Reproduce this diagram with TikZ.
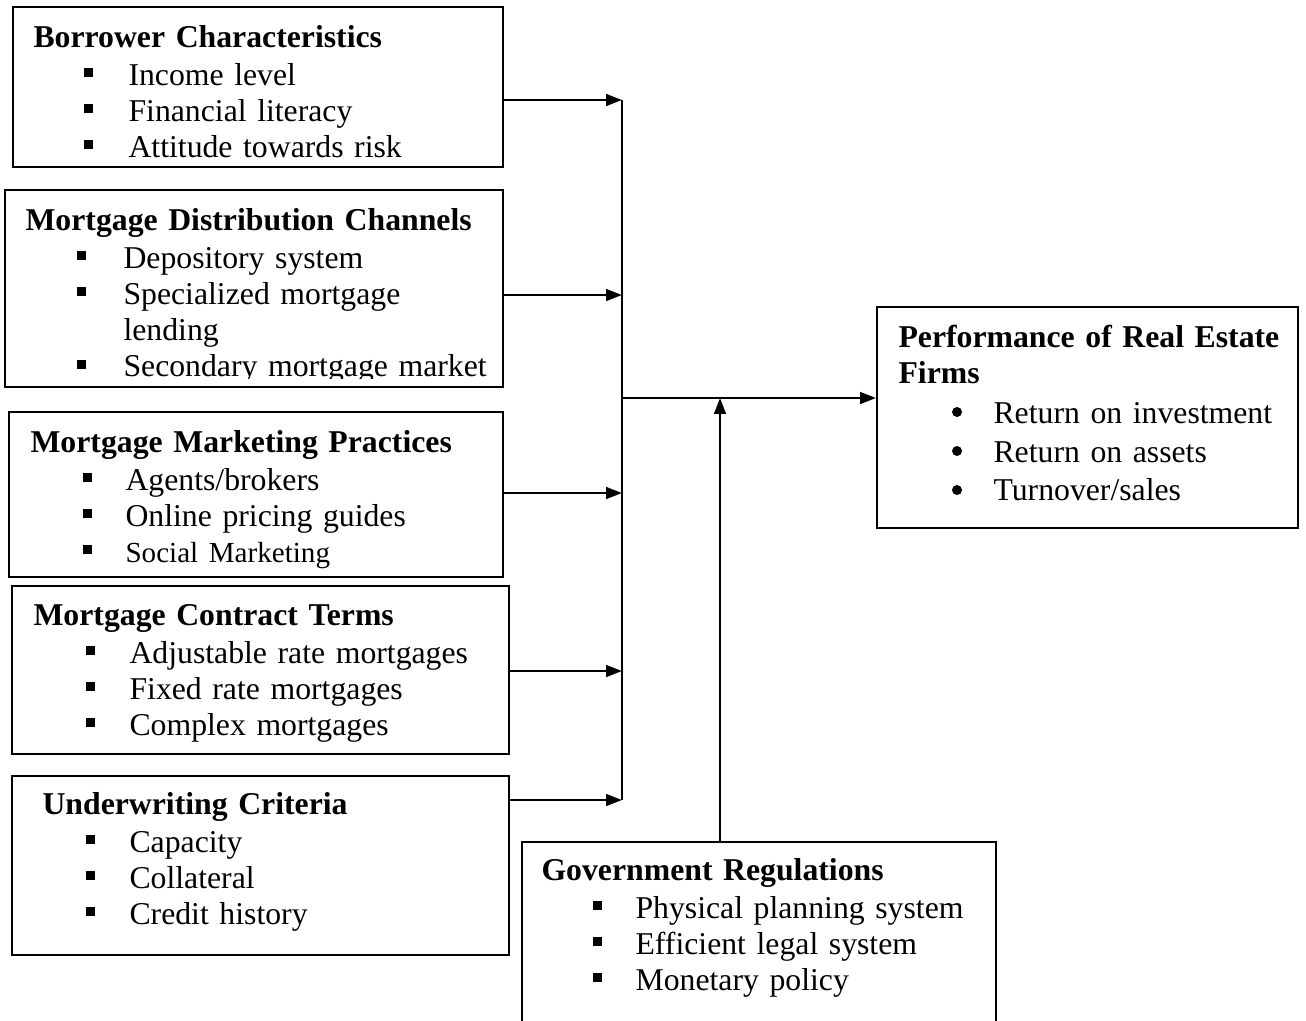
\documentclass[tikz,border=0pt]{standalone}
\usepackage{fontspec}
\setmainfont{Liberation Serif}
\usetikzlibrary{arrows.meta,fit}

% one drawing unit
\newlength\pxu \setlength\pxu{0.378pt}
% square list mark
\newcommand\sqmark{\rule[3pt]{3.4pt}{3.4pt}}
% list lines: indent of the mark, gap to the text, the text
\newcommand\bl[3]{\hspace*{#1\pxu}\makebox[#2\pxu][l]{\sqmark}#3}
\newcommand\cont[2]{\hspace*{#1\pxu}#2}

\tikzset{
  box/.style={draw, line width=0.75pt, inner sep=0pt, fit={#1}},
  txt/.style={anchor=base west, inner sep=0pt, text width=520\pxu, align=left,
              font=\fontsize{12}{13.65}\selectfont},
  conn/.style={line width=0.9pt, -{Triangle[length=6pt,width=4.4pt]}},
  bus/.style={line width=0.9pt},
  dotmk/.style={fill=black}
}

\begin{document}
\begin{tikzpicture}[x=0.378pt, y=-0.378pt]
\useasboundingbox (0,0) rectangle (1306,1020);
\clip (0,0) rectangle (1306,1020);

% ---- factor boxes on the left
\node[box={(13,7) (503,167)}] (bc) {};
\node[txt] (bct) at (33,47) {\textbf{Borrower Characteristics}\\[0.75pt]
  \bl{50}{45}{Income level}\\
  \bl{50}{45}{Financial literacy}\\
  \bl{50}{45}{Attitude towards risk}};

\node[box={(5,190) (503,387)}] (mdc) {};
\begin{scope}
  \clip (5,190) rectangle (503,378);
  \node[txt] (mdct) at (25,230) {\textbf{Mortgage Distribution Channels}\\[0.75pt]
    \bl{51}{47}{Depository system}\\
    \bl{51}{47}{Specialized mortgage}\\
    \cont{98}{lending}\\
    \bl{51}{47}{Secondary mortgage market}};
\end{scope}

\node[box={(9,412) (503,577)}] (mmp) {};
\node[txt] (mmpt) at (30,452) {\textbf{Mortgage Marketing Practices}\\[0.75pt]
  \bl{52}{43}{Agents/brokers}\\
  \bl{52}{43}{Online pricing guides}\\
  \bl{52}{43}{\fontsize{11}{13}\selectfont Social Marketing}};

\node[box={(12,586) (509,754)}] (mct) {};
\node[txt] (mctt) at (33,625) {\textbf{Mortgage Contract Terms}\\[0.75pt]
  \bl{52}{44}{Adjustable rate mortgages}\\
  \bl{52}{44}{Fixed rate mortgages}\\
  \bl{52}{44}{Complex mortgages}};

\node[box={(12,776) (509,955)}] (uc) {};
\node[txt] (uct) at (42,814) {\textbf{Underwriting Criteria}\\[0.75pt]
  \bl{43}{44}{Capacity}\\
  \bl{43}{44}{Collateral}\\
  \bl{43}{44}{Credit history}};

% ---- moderating box at the bottom (runs off the lower edge)
\node[box={(522,842) (996,1040)}] (gov) {};
\node[txt] (govt) at (541,880) {\textbf{Government Regulations}\\[0.75pt]
  \bl{51}{43}{Physical planning system}\\
  \bl{51}{43}{Efficient legal system}\\
  \bl{51}{43}{Monetary policy}};

% ---- outcome box, its list marks are round dots
\node[box={(877,307) (1298,528)}] (perf) {};
\node[txt] (perft) at (898,347) {\textbf{Performance of Real Estate}\\
  \textbf{Firms}\\[1.6pt]
  \cont{95}{Return on investment}\\[1pt]
  \cont{95}{Return on assets}\\[1pt]
  \cont{95}{Turnover/sales}};
\fill[dotmk] (957,412) circle[radius=5];
\fill[dotmk] (957,451) circle[radius=5];
\fill[dotmk] (957,490) circle[radius=5];

% ---- collecting bus and connectors
\coordinate (j1) at (622,100);
\coordinate (j2) at (622,295);
\coordinate (j3) at (622,493);
\coordinate (j4) at (622,671);
\coordinate (j5) at (622,800);
\coordinate (hub) at (622,398);
\coordinate (up) at (720,398);

\draw[bus] (j1) -- (j5);
\draw[conn] (bc.east |- j1) -- (j1);
\draw[conn] (mdc.east |- j2) -- (j2);
\draw[conn] (mmp.east |- j3) -- (j3);
\draw[conn] (mct.east |- j4) -- (j4);
\draw[conn] (uc.east |- j5) -- (j5);
\draw[conn] (hub) -- (perf.west |- hub);
\draw[conn] (gov.north -| up) -- (up);
\end{tikzpicture}
\end{document}
